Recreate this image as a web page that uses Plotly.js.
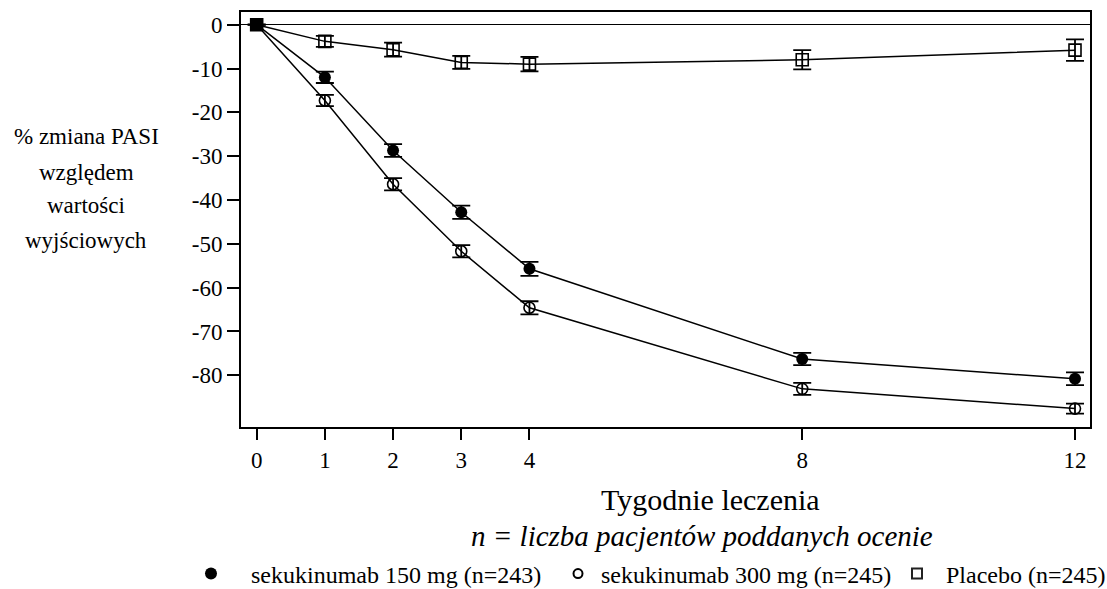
<!DOCTYPE html>
<html>
<head>
<meta charset="utf-8">
<script src="https://cdn.plot.ly/plotly-3.0.1.min.js"></script>
<style>
  html, body { margin: 0; padding: 0; background: #fff; }
  #chart { width: 1107px; height: 589px; }
</style>
</head>
<body>
<div id="chart"></div>
<script>
// ---- data ----
const weeks = [0, 1, 2, 3, 4, 8, 12];
const weekTickLabels = ['0', '1', '2', '3', '4', '8', '12'];

const sek150 = [0, -12.0, -28.7, -42.8, -55.7, -76.3, -80.8];
const sek150Err = [0, 1.3, 1.45, 1.5, 1.6, 1.4, 1.45];

const sek300 = [0, -17.3, -36.4, -51.7, -64.6, -83.1, -87.6];
const sek300Err = [0, 1.3, 1.4, 1.4, 1.5, 1.35, 1.15];

const placebo = [0, -3.8, -5.7, -8.6, -9.0, -8.0, -5.8];
const placeboErr = [0, 1.25, 1.6, 1.5, 1.65, 2.2, 2.45];

const yTicks = [0, -10, -20, -30, -40, -50, -60, -70, -80];
const yTickLabels = ['0', '-10', '-20', '-30', '-40', '-50', '-60', '-70', '-80'];

const seriesNames = [
  'sekukinumab 150 mg (n=243)',
  'sekukinumab 300 mg (n=245)',
  'Placebo (n=245)'
];
const yTitleLines = ['% zmiana PASI', 'względem', 'wartości', 'wyjściowych'];
const xTitle = 'Tygodnie leczenia';
const xSubTitle = 'n = liczba pacjentów poddanych ocenie';

// ---- styling ----
const FONT = 'Liberation Serif';
const black = '#000000';
const W = 1107, H = 589;

function errStyle(arr) {
  return { type: 'data', array: arr, visible: true, color: black, thickness: 1.8, width: 9 };
}

const placeboSymbols = weeks.map((w, i) => i === 0 ? 'square' : 'square-open');

const traces = [
  {
    x: weeks, y: sek150, mode: 'lines+markers', showlegend: false,
    line: { color: black, width: 1.5 },
    marker: { symbol: 'circle', size: 12, color: black },
    error_y: errStyle(sek150Err)
  },
  {
    x: weeks, y: sek300, mode: 'lines+markers', showlegend: false,
    line: { color: black, width: 1.5 },
    marker: { symbol: 'circle-open', size: 11, color: black, line: { width: 1.6, color: black } },
    error_y: errStyle(sek300Err)
  },
  {
    x: weeks, y: placebo, mode: 'lines+markers', showlegend: false,
    line: { color: black, width: 1.5 },
    marker: { symbol: placeboSymbols, size: 12, color: black, line: { width: 1.6, color: black } },
    error_y: errStyle(placeboErr)
  },
  // legend-only entries (marker only, no line / error bar)
  {
    x: [null], y: [null], mode: 'markers', name: seriesNames[0], legend: 'legend',
    marker: { symbol: 'circle', size: 12, color: black }
  },
  {
    x: [null], y: [null], mode: 'markers', name: seriesNames[1], legend: 'legend2',
    marker: { symbol: 'circle-open', size: 9, color: black, line: { width: 2, color: black } }
  },
  {
    x: [null], y: [null], mode: 'markers', name: seriesNames[2], legend: 'legend3',
    marker: { symbol: 'square-open', size: 10, color: '#222', line: { width: 2, color: '#222' } }
  }
];

// plot area in pixels: left 241, right 1090, top 12, bottom 427
const PL = 241, PR = 1090, PT = 12, PB = 427;
const PW = PR - PL, PH = PB - PT;
const px2x = p => (p - PL) / PW;
const px2y = p => (PB - p) / PH;

const LEG_Y = 1 - 574 / H;
const legendCommon = {
  orientation: 'h', xanchor: 'left', yanchor: 'middle',
  xref: 'container', yref: 'container',
  font: { family: FONT, size: 24, color: black },
  bgcolor: 'rgba(0,0,0,0)', borderwidth: 0
};

const annotations = [];
const yTitleCenters = [136, 172, 205, 240];
yTitleLines.forEach((t, i) => {
  annotations.push({
    text: t, xref: 'paper', yref: 'paper',
    x: px2x(86), y: px2y(yTitleCenters[i]),
    xanchor: 'center', yanchor: 'middle', showarrow: false,
    font: { family: FONT, size: 23, color: black }
  });
});
annotations.push({
  text: xTitle, xref: 'paper', yref: 'paper',
  x: px2x(710), y: px2y(499), xanchor: 'center', yanchor: 'middle', showarrow: false,
  font: { family: FONT, size: 30, color: black }
});
annotations.push({
  text: '<i>' + xSubTitle + '</i>', xref: 'paper', yref: 'paper',
  x: px2x(702), y: px2y(536), xanchor: 'center', yanchor: 'middle', showarrow: false,
  font: { family: FONT, size: 29, color: black }
});

const layout = {
  width: W, height: H,
  margin: { l: PL, r: W - PR, t: PT, b: H - PB, pad: 0, autoexpand: false },
  paper_bgcolor: '#fff', plot_bgcolor: '#fff',
  font: { family: FONT, size: 23, color: black },
  xaxis: {
    range: [-0.23, 12.22], tickmode: 'array', tickvals: weeks, ticktext: weekTickLabels,
    showgrid: false, zeroline: false, showline: true, linecolor: black, linewidth: 2,
    mirror: true, ticks: 'outside', ticklen: 11, tickwidth: 2, tickcolor: black,
    tickfont: { family: FONT, size: 23, color: black }
  },
  yaxis: {
    range: [-91.8, 2.9], tickmode: 'array', tickvals: yTicks, ticktext: yTickLabels,
    showgrid: false, zeroline: true, zerolinecolor: black, zerolinewidth: 1.5,
    showline: true, linecolor: black, linewidth: 2, mirror: true,
    ticks: 'outside', ticklen: 12, tickwidth: 2, tickcolor: black,
    tickfont: { family: FONT, size: 23, color: black }
  },
  showlegend: true,
  legend: Object.assign({}, legendCommon, { x: 171 / W, y: LEG_Y, itemwidth: 70 }),
  legend2: Object.assign({}, legendCommon, { x: 555 / W, y: LEG_Y, itemwidth: 36 }),
  legend3: Object.assign({}, legendCommon, { x: 888 / W, y: LEG_Y, itemwidth: 48 }),
  annotations: annotations
};

Plotly.newPlot('chart', traces, layout, { displayModeBar: false, staticPlot: true });
</script>
</body>
</html>
